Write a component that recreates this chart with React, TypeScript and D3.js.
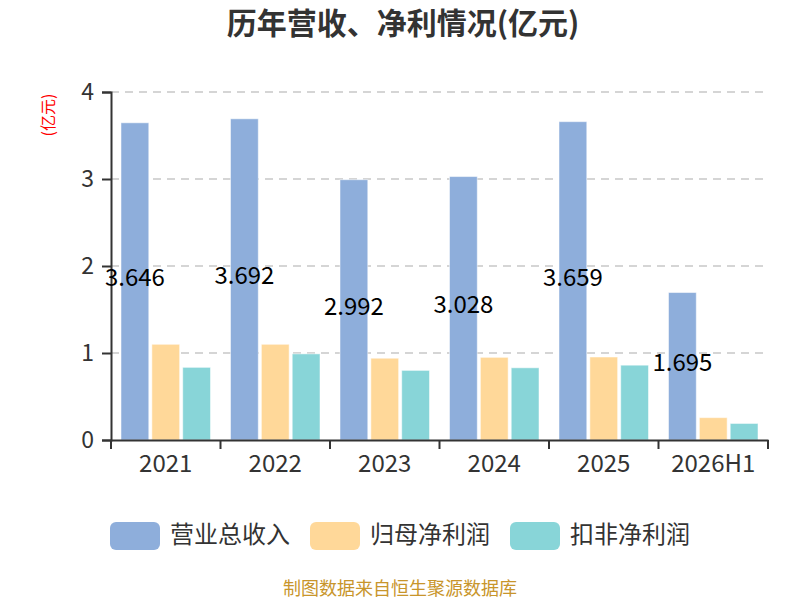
import { useEffect, useRef } from "react";
import * as d3 from "d3";

const categories = ["2021", "2022", "2023", "2024", "2025", "2026H1"];
const seriesNames = ["营业总收入", "归母净利润", "扣非净利润"];
const revenue = [3.646, 3.692, 2.992, 3.028, 3.659, 1.695];
const netProfit = [1.1, 1.1, 0.94, 0.95, 0.954, 0.257];
const deductedProfit = [0.835, 0.99, 0.8, 0.83, 0.86, 0.19];
const colors = ["#8eaedb", "#ffd899", "#88d5d8"];
const yTicks = [0, 1, 2, 3, 4];

const FONT = "'Noto Sans CJK SC', 'Noto Sans', sans-serif";

export default function App() {
  const ref = useRef<SVGSVGElement>(null);

  useEffect(() => {
    const svg = d3.select(ref.current);
    svg.selectAll("*").remove();

    const margin = { left: 111, right: 32, top: 92, bottom: 160 };
    const width = 800;
    const height = 600;
    const series = [revenue, netProfit, deductedProfit];

    const x0 = d3
      .scaleBand<string>()
      .domain(categories)
      .range([margin.left, width - margin.right]);
    const x1 = d3
      .scaleBand<number>()
      .domain([0, 1, 2])
      .range([10, x0.bandwidth() - 10])
      .paddingInner(0.1);
    const y = d3
      .scaleLinear()
      .domain([0, 4])
      .range([height - margin.bottom, margin.top]);

    // title
    svg
      .append("text")
      .attr("x", 403)
      .attr("y", 34)
      .attr("text-anchor", "middle")
      .style("font-family", FONT)
      .style("font-size", "30px")
      .style("font-weight", "bold")
      .style("fill", "#333")
      .text("历年营收、净利情况(亿元)");

    // y unit label
    svg
      .append("text")
      .attr("transform", `translate(54, 115) rotate(-90)`)
      .attr("text-anchor", "middle")
      .style("font-family", FONT)
      .style("font-size", "16px")
      .style("fill", "#ff0000")
      .text("(亿元)");

    // grid
    svg
      .append("g")
      .selectAll("line")
      .data(yTicks.filter((d) => d > 0))
      .enter()
      .append("line")
      .attr("x1", margin.left)
      .attr("x2", width - margin.right)
      .attr("y1", (d) => y(d))
      .attr("y2", (d) => y(d))
      .style("stroke", "#c8c8c8")
      .style("stroke-width", 1.5)
      .style("stroke-dasharray", "8,6");

    // bars
    series.forEach((vals, si) => {
      svg
        .append("g")
        .selectAll("rect")
        .data(vals)
        .enter()
        .append("rect")
        .attr("x", (_, i) => (x0(categories[i]) as number) + (x1(si) as number))
        .attr("y", (d) => y(d))
        .attr("width", x1.bandwidth())
        .attr("height", (d) => y(0) - y(d))
        .style("fill", colors[si])
        .style("stroke", "rgba(255,255,255,0.5)")
        .style("stroke-width", 1);
    });

    // y axis
    const yAxis = svg
      .append("g")
      .attr("transform", `translate(${margin.left},0)`)
      .call(d3.axisLeft(y).tickValues(yTicks).tickSize(9).tickPadding(8).tickFormat(d3.format("d")));
    yAxis.select(".domain").style("stroke", "#333").style("stroke-width", 2);
    yAxis.selectAll(".tick line").style("stroke", "#333").style("stroke-width", 2);
    yAxis
      .selectAll(".tick text")
      .style("font-family", FONT)
      .style("font-size", "23px")
      .style("fill", "#333");

    // x axis
    const xAxis = svg
      .append("g")
      .attr("transform", `translate(0,${y(0)})`)
      .call(d3.axisBottom(x0).tickSize(0).tickPadding(15));
    xAxis.select(".domain").style("stroke", "#333").style("stroke-width", 2);
    xAxis
      .selectAll(".tick text")
      .style("font-family", FONT)
      .style("font-size", "24px")
      .style("fill", "#333");
    xAxis
      .append("g")
      .selectAll("line")
      .data([...categories.map((c) => x0(c) as number), width - margin.right])
      .enter()
      .append("line")
      .attr("x1", (d) => d)
      .attr("x2", (d) => d)
      .attr("y1", 0)
      .attr("y2", 9)
      .style("stroke", "#333")
      .style("stroke-width", 2);

    // labels on revenue bars
    svg
      .append("g")
      .selectAll("text")
      .data(revenue)
      .enter()
      .append("text")
      .attr("x", (_, i) => (x0(categories[i]) as number) + (x1(0) as number) + x1.bandwidth() / 2)
      .attr("y", (d) => y(d / 2))
      .attr("dy", "0.2em")
      .attr("text-anchor", "middle")
      .style("font-family", FONT)
      .style("font-size", "24px")
      .style("fill", "#000")
      .text((d) => d3.format(".3f")(d));

    // legend
    const legendX = [110, 310, 510];
    const legend = svg.append("g");
    seriesNames.forEach((name, i) => {
      legend
        .append("rect")
        .attr("x", legendX[i])
        .attr("y", 522)
        .attr("width", 50)
        .attr("height", 28)
        .attr("rx", 6)
        .style("fill", colors[i]);
      legend
        .append("text")
        .attr("x", legendX[i] + 60)
        .attr("y", 535)
        .attr("dy", "0.35em")
        .style("font-family", FONT)
        .style("font-size", "24px")
        .style("fill", "#333")
        .text(name);
    });

    // source
    svg
      .append("text")
      .attr("x", 400)
      .attr("y", 595)
      .attr("text-anchor", "middle")
      .style("font-family", FONT)
      .style("font-size", "18px")
      .style("fill", "#c8952b")
      .text("制图数据来自恒生聚源数据库");
  }, []);

  return (
    <svg
      ref={ref}
      width={800}
      height={600}
      style={{ position: "absolute", left: 0, top: 0, background: "#fff" }}
    />
  );
}
